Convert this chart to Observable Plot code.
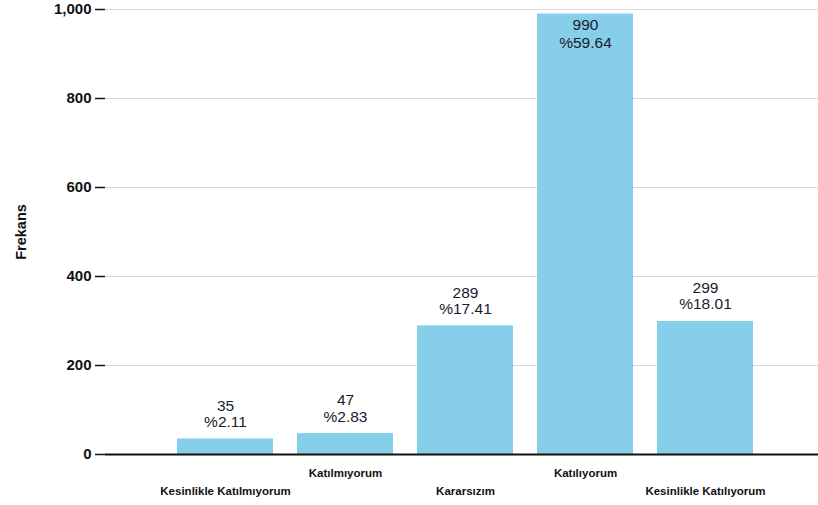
<!DOCTYPE html>
<html>
<head>
<meta charset="utf-8">
<script src="https://cdn.jsdelivr.net/npm/d3@7"></script>
<script src="https://cdn.jsdelivr.net/npm/@observablehq/plot@0.6"></script>
<style>
  html, body { margin: 0; padding: 0; background: #fff; }
  svg { display: block; }
</style>
</head>
<body>
<div id="chart"></div>
<script>
const categories = ["Kesinlikle Katılmıyorum", "Katılmıyorum", "Kararsızım", "Katılıyorum", "Kesinlikle Katılıyorum"];
const counts = [35, 47, 289, 990, 299];
const percents = [2.11, 2.83, 17.41, 59.64, 18.01];
const yTicks = [0, 200, 400, 600, 800, 1000];
const yTitle = "Frekans";

const data = categories.map((c, i) => ({
  cat: c, count: counts[i], pct: percents[i],
  label: `${counts[i]}\n%${percents[i].toFixed(2)}`
}));
const yMax = 1000;
const outside = data.filter(d => d.count < 0.9 * yMax);
const inside = data.filter(d => d.count >= 0.9 * yMax);

const font = "'Liberation Sans', Arial, sans-serif";

const chart = Plot.plot({
  width: 818,
  height: 505,
  marginLeft: 105,
  marginRight: 0,
  marginTop: 9,
  marginBottom: 51,
  style: { fontFamily: font, background: "#fff", color: "#111" },
  x: { domain: categories, range: [164, 765.5], paddingInner: 0.2, paddingOuter: 0.1, axis: null },
  y: { domain: [0, yMax], axis: null },
  marks: [
    Plot.gridY(yTicks, { stroke: "#d9d9d9", strokeOpacity: 1, strokeWidth: 1 }),
    Plot.barY(data, { x: "cat", y: "count", fill: "#87CEEB" }),
    Plot.text(outside, { x: "cat", y: "count", text: "label", lineAnchor: "bottom", dy: -12, fontSize: 15.5, fill: "#1b1b2b", lineHeight: 1.05 }),
    Plot.text(inside, { x: "cat", y: () => yMax, text: "label", lineAnchor: "top", dy: 8, fontSize: 15.5, fill: "#1b1b2b", lineHeight: 1.15 }),
    Plot.axisY(yTicks, {
      tickSize: 10, tickPadding: 4, tickFormat: d3.format(","),
      fontSize: 15, fontWeight: "bold", stroke: "#111", strokeWidth: 1.5,
      label: null
    }),
    Plot.text([yTitle], { text: d => d, y: () => yMax / 2, frameAnchor: "left", textAnchor: "middle", lineAnchor: "middle", dx: -84, rotate: -90, fontSize: 14.5, fontWeight: "bold", fill: "#111" }),
    Plot.axisX(categories.filter((d, i) => i % 2 === 1), {
      tickSize: 0, tickPadding: 14, fontSize: 11.5, fontWeight: "bold", label: null
    }),
    Plot.axisX(categories.filter((d, i) => i % 2 === 0), {
      tickSize: 0, tickPadding: 32, fontSize: 11.5, fontWeight: "bold", label: null
    }),
    Plot.ruleY([0], { stroke: "#111", strokeWidth: 2 }),
    Plot.ruleX([0], { x: () => null, frameAnchor: "left", stroke: "#111", strokeWidth: 2 })
  ]
});
document.getElementById("chart").appendChild(chart);
</script>
</body>
</html>
